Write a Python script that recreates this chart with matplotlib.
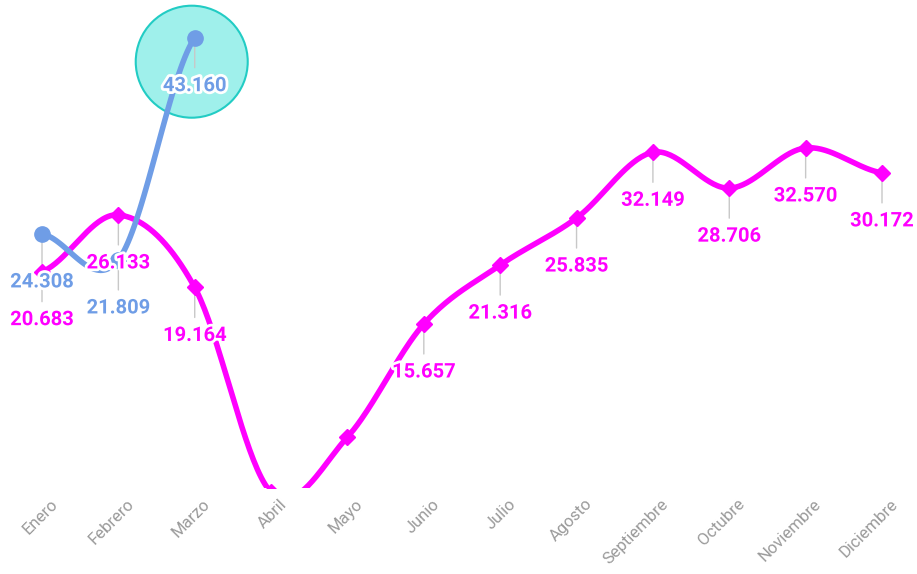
import numpy as np
import matplotlib
matplotlib.use("Agg")
import matplotlib.pyplot as plt
import matplotlib.patheffects as pe
from matplotlib.patches import Circle
from matplotlib.transforms import ScaledTranslation

months = ["Enero", "Febrero", "Marzo", "Abril", "Mayo", "Junio", "Julio",
          "Agosto", "Septiembre", "Octubre", "Noviembre", "Diciembre"]
serie_a = [20.683, 26.133, 19.164, -0.5, 4.8, 15.657, 21.316, 25.835,
           32.149, 28.706, 32.570, 30.172]
labels_a = ["20.683", "26.133", "19.164", "", "", "15.657", "21.316", "25.835",
            "32.149", "28.706", "32.570", "30.172"]
serie_b = [24.308, 21.809, 43.160]
labels_b = ["24.308", "21.809", "43.160"]

MAGENTA = "#ff00ff"
BLUE = "#6f9de6"


def catmull_rom(x, y, n=40):
    x = np.asarray(x, float)
    y = np.asarray(y, float)
    px = np.concatenate([[2 * x[0] - x[1]], x, [2 * x[-1] - x[-2]]])
    py = np.concatenate([[y[0]], y, [y[-1]]])
    xs, ys = [], []
    t = np.linspace(0, 1, n)
    h00 = 2 * t**3 - 3 * t**2 + 1
    h10 = t**3 - 2 * t**2 + t
    h01 = -2 * t**3 + 3 * t**2
    h11 = t**3 - t**2
    for i in range(1, len(px) - 2):
        m1 = (py[i + 1] - py[i - 1]) / 2
        m2 = (py[i + 2] - py[i]) / 2
        k1 = (px[i + 1] - px[i - 1]) / 2
        k2 = (px[i + 2] - px[i]) / 2
        ys.append(h00 * py[i] + h10 * m1 + h01 * py[i + 1] + h11 * m2)
        xs.append(h00 * px[i] + h10 * k1 + h01 * px[i + 1] + h11 * k2)
    return np.concatenate(xs), np.concatenate(ys)


W, H = 917, 574
fig = plt.figure(figsize=(W / 100, H / 100), dpi=100)
bottom_px = 488
ax = fig.add_axes([0, 1 - bottom_px / H, 1, bottom_px / H])
step = 840 / 11
ax.set_xlim(-42 / step, 11 + (W - 882) / step)
ax.set_ylim(-0.1, 487 / 10.41)
for s in ax.spines.values():
    s.set_visible(False)
ax.set_yticks([])

x_a = np.arange(len(serie_a))
x_b = np.arange(len(serie_b))

# highlight circle around last blue point
ctrans = fig.dpi_scale_trans + ScaledTranslation(x_b[2], serie_b[2], ax.transData) \
    + ScaledTranslation(-3 / 100, -24 / 100, fig.dpi_scale_trans)
ax.add_patch(Circle((0, 0), 0.56, transform=ctrans, facecolor="#9ff0eb",
                    edgecolor="#22ccc4", lw=1.5, zorder=1, clip_on=False))

cx, cy = catmull_rom(x_a, serie_a)
ax.plot(cx, cy, color=MAGENTA, lw=4, zorder=3, solid_capstyle="round")
ax.plot(x_a, serie_a, "D", color=MAGENTA, ms=8, zorder=4)

bx, by = catmull_rom(x_b, serie_b)
ax.plot(bx, by, color=BLUE, lw=4, zorder=3, solid_capstyle="round")
ax.plot(x_b, serie_b, "o", color=BLUE, ms=11, zorder=4)

stroke = [pe.withStroke(linewidth=4, foreground="white")]
PT = 0.72  # points per pixel at dpi 100


def add_labels(xs, ys, labs, color):
    for xi, yi, lab in zip(xs, ys, labs):
        if not lab:
            continue
        ax.annotate("", xy=(xi, yi), xycoords="data",
                    xytext=(0, -30 * PT), textcoords="offset points",
                    arrowprops=dict(arrowstyle="-", color="#c8c8c8", lw=1,
                                    shrinkA=0, shrinkB=6 * PT),
                    zorder=2)
        ax.annotate(lab, xy=(xi, yi), xycoords="data",
                    xytext=(0, -48 * PT), textcoords="offset points",
                    ha="center", va="center", fontsize=14.5, fontweight="bold",
                    family="Roboto", color=color, path_effects=stroke,
                    zorder=6, annotation_clip=False)


add_labels(x_a, serie_a, labels_a, MAGENTA)
add_labels(x_b, serie_b, labels_b, BLUE)

ax.set_xticks(x_a)
ax.set_xticklabels(months, rotation=45, ha="right", rotation_mode="anchor",
                   fontsize=12, color="#9a9a9a", family="Roboto")
ax.tick_params(axis="x", length=0, pad=6)
for lbl in ax.get_xticklabels():
    lbl.set_transform(lbl.get_transform() + ScaledTranslation(8 / 100, 0, fig.dpi_scale_trans))

fig.savefig("out.png", dpi=100)
